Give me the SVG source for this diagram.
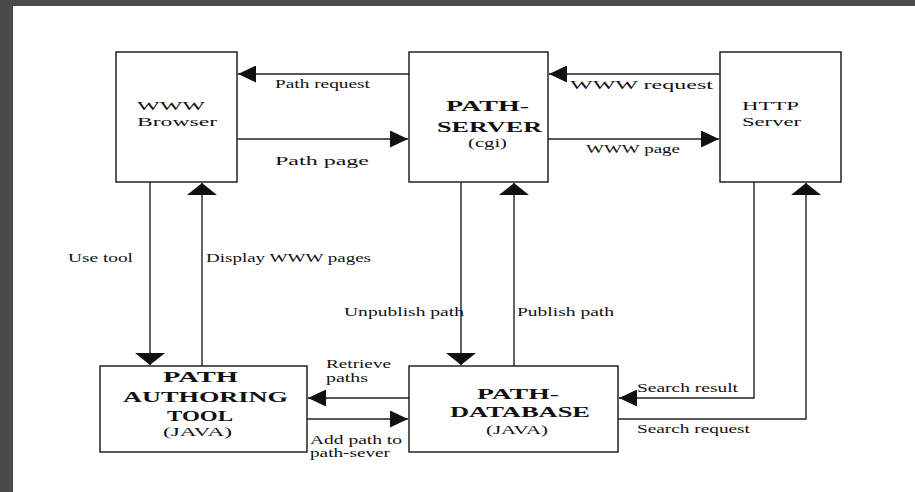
<svg xmlns="http://www.w3.org/2000/svg" width="915" height="492" viewBox="0 0 915 492">
<style>
.box{fill:#fff;stroke:#222;stroke-width:1.5}
.ln{fill:none;stroke:#222;stroke-width:1.4}
.lbl{font-family:"Liberation Serif","Times New Roman",serif;font-size:13px;fill:#111}
.sm{font-size:12px}
.ttl{font-family:"Liberation Serif","Times New Roman",serif;font-size:15px;font-weight:bold;fill:#111}
.sub{font-family:"Liberation Serif","Times New Roman",serif;font-size:12px;fill:#111}
</style>
<defs>
<marker id="ah" markerUnits="userSpaceOnUse" markerWidth="18" markerHeight="17" refX="18" refY="8.5" orient="auto"><path d="M0,0 L18,8.5 L0,17 z" fill="#111"/></marker>
<marker id="av" markerUnits="userSpaceOnUse" markerWidth="12" markerHeight="30" refX="12" refY="15" orient="auto"><path d="M0,0 L12,15 L0,30 z" fill="#111"/></marker>
</defs>
<rect x="0" y="0" width="915" height="492" fill="#4a4a4a"/>
<rect x="13" y="6" width="902" height="486" fill="#fff"/>

<g id="connectors">
<line class="ln" x1="409" y1="74" x2="238" y2="74" marker-end="url(#ah)"/>
<line class="ln" x1="237" y1="139" x2="408" y2="139" marker-end="url(#ah)"/>
<line class="ln" x1="720" y1="74" x2="549" y2="74" marker-end="url(#ah)"/>
<line class="ln" x1="548" y1="139" x2="719" y2="139" marker-end="url(#ah)"/>
<line class="ln" x1="150" y1="182" x2="150" y2="365" marker-end="url(#av)"/>
<line class="ln" x1="202" y1="366" x2="202" y2="183" marker-end="url(#av)"/>
<line class="ln" x1="461" y1="182" x2="461" y2="365" marker-end="url(#av)"/>
<line class="ln" x1="514" y1="366" x2="514" y2="183" marker-end="url(#av)"/>
<polyline class="ln" points="754,182 754,398 619,398" marker-end="url(#ah)"/>
<polyline class="ln" points="618,419 806,419 806,183" marker-end="url(#av)"/>
<line class="ln" x1="409" y1="398" x2="308" y2="398" marker-end="url(#ah)"/>
<line class="ln" x1="307" y1="419" x2="408" y2="419" marker-end="url(#ah)"/>
<text class="lbl" x="275" y="88" textLength="95" lengthAdjust="spacingAndGlyphs">Path request</text>
<text class="lbl" x="275" y="165" textLength="94" lengthAdjust="spacingAndGlyphs">Path page</text>
<text class="lbl" x="570" y="89" textLength="143" lengthAdjust="spacingAndGlyphs">WWW request</text>
<text class="lbl" x="586" y="153" textLength="94" lengthAdjust="spacingAndGlyphs">WWW page</text>
<text class="lbl" x="68" y="262" textLength="65" lengthAdjust="spacingAndGlyphs">Use tool</text>
<text class="lbl" x="206" y="262" textLength="165" lengthAdjust="spacingAndGlyphs">Display WWW pages</text>
<text class="lbl" x="344" y="316" textLength="120" lengthAdjust="spacingAndGlyphs">Unpublish path</text>
<text class="lbl" x="517" y="316" textLength="97" lengthAdjust="spacingAndGlyphs">Publish path</text>
<text class="lbl sm" x="326" y="368" textLength="65" lengthAdjust="spacingAndGlyphs">Retrieve</text>
<text class="lbl sm" x="326" y="382" textLength="42" lengthAdjust="spacingAndGlyphs">paths</text>
<text class="lbl sm" x="310" y="444" textLength="92" lengthAdjust="spacingAndGlyphs">Add path to</text>
<text class="lbl sm" x="310" y="457" textLength="80" lengthAdjust="spacingAndGlyphs">path-sever</text>
<text class="lbl" x="637" y="392" textLength="101" lengthAdjust="spacingAndGlyphs">Search result</text>
<text class="lbl" x="637" y="433" textLength="113" lengthAdjust="spacingAndGlyphs">Search request</text>
</g>

<g id="browser">
<rect class="box" x="116" y="52" width="121" height="130"/>
<text class="lbl" x="137" y="110" textLength="68" lengthAdjust="spacingAndGlyphs">WWW</text>
<text class="lbl" x="137" y="126" textLength="80" lengthAdjust="spacingAndGlyphs">Browser</text>
</g>

<g id="path-server">
<rect class="box" x="409" y="52" width="139" height="130"/>
<text class="ttl" x="446" y="111" textLength="83" lengthAdjust="spacingAndGlyphs">PATH-</text>
<text class="ttl" x="437" y="132" textLength="105" lengthAdjust="spacingAndGlyphs">SERVER</text>
<text class="sub" x="468" y="147" textLength="39" lengthAdjust="spacingAndGlyphs">(cgi)</text>
</g>

<g id="http-server">
<rect class="box" x="720" y="52" width="121" height="130"/>
<text class="lbl" x="742" y="110" textLength="57" lengthAdjust="spacingAndGlyphs">HTTP</text>
<text class="lbl" x="742" y="126" textLength="59" lengthAdjust="spacingAndGlyphs">Server</text>
</g>

<g id="authoring-tool">
<rect class="box" x="100" y="366" width="207" height="86"/>
<text class="ttl" x="163" y="382" textLength="75" lengthAdjust="spacingAndGlyphs">PATH</text>
<text class="ttl" x="123" y="402" textLength="165" lengthAdjust="spacingAndGlyphs">AUTHORING</text>
<text class="ttl" x="167" y="421" textLength="66" lengthAdjust="spacingAndGlyphs">TOOL</text>
<text class="sub" x="163" y="436" textLength="69" lengthAdjust="spacingAndGlyphs">(JAVA)</text>
</g>

<g id="path-database">
<rect class="box" x="409" y="366" width="209" height="86"/>
<text class="ttl" x="477" y="399" textLength="82" lengthAdjust="spacingAndGlyphs">PATH-</text>
<text class="ttl" x="450" y="417" textLength="140" lengthAdjust="spacingAndGlyphs">DATABASE</text>
<text class="sub" x="486" y="434" textLength="62" lengthAdjust="spacingAndGlyphs">(JAVA)</text>
</g>
</svg>
